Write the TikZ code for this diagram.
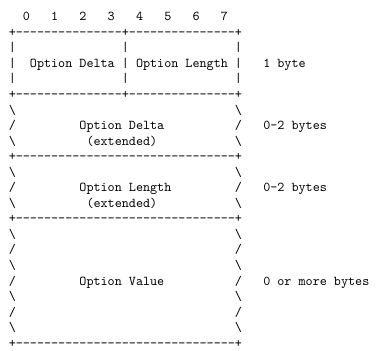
\documentclass[tikz,border=0pt]{standalone}
\usetikzlibrary{positioning}
\newcommand\gap[1]{\hspace*{#1\dimexpr 0.525em\relax}}
\newcommand\dashrun[1]{\foreach \x in {1,...,#1}{-}}
\newcommand\bs{\textbackslash}
\tikzstyle{asciirow}=[font=\ttfamily, inner sep=0pt, outer sep=0pt, text height=8.1pt, text depth=3.45pt]
\tikzstyle{nextrow}=[asciirow, below=0pt of #1.south west, anchor=north west]

\begin{document}
\begin{tikzpicture}
  \useasboundingbox (0,0) rectangle (279.2pt,-260.6pt);
  % bit numbers and first byte
  \node[asciirow, anchor=north west] (r0) at (6.5pt,-7.25pt) {\gap{2}0\gap{3}1\gap{3}2\gap{3}3\gap{3}4\gap{3}5\gap{3}6\gap{3}7};
  \node[nextrow=r0]  (r1)  {+\dashrun{15}+\dashrun{15}+};
  \node[nextrow=r1]  (r2)  {|\gap{15}|\gap{15}|};
  \node[nextrow=r2]  (r3)  {|\gap{2}Option Delta | Option Length |\gap{3}1 byte};
  \node[nextrow=r3]  (r4)  {|\gap{15}|\gap{15}|};
  \node[nextrow=r4]  (r5)  {+\dashrun{15}+\dashrun{15}+};
  % extended delta
  \node[nextrow=r5]  (r6)  {\bs\gap{31}\bs};
  \node[nextrow=r6]  (r7)  {/\gap{9}Option Delta\gap{10}/\gap{3}0-2 bytes};
  \node[nextrow=r7]  (r8)  {\bs\gap{10}(extended)\gap{11}\bs};
  \node[nextrow=r8]  (r9)  {+\dashrun{31}+};
  % extended length
  \node[nextrow=r9]  (r10) {\bs\gap{31}\bs};
  \node[nextrow=r10] (r11) {/\gap{9}Option Length\gap{9}/\gap{3}0-2 bytes};
  \node[nextrow=r11] (r12) {\bs\gap{10}(extended)\gap{11}\bs};
  \node[nextrow=r12] (r13) {+\dashrun{31}+};
  % value
  \node[nextrow=r13] (r14) {\bs\gap{31}\bs};
  \node[nextrow=r14] (r15) {/\gap{31}/};
  \node[nextrow=r15] (r16) {\bs\gap{31}\bs};
  \node[nextrow=r16] (r17) {/\gap{9}Option Value\gap{10}/\gap{3}0 or more bytes};
  \node[nextrow=r17] (r18) {\bs\gap{31}\bs};
  \node[nextrow=r18] (r19) {/\gap{31}/};
  \node[nextrow=r19] (r20) {\bs\gap{31}\bs};
  \node[nextrow=r20] (r21) {+\dashrun{31}+};
\end{tikzpicture}
\end{document}
